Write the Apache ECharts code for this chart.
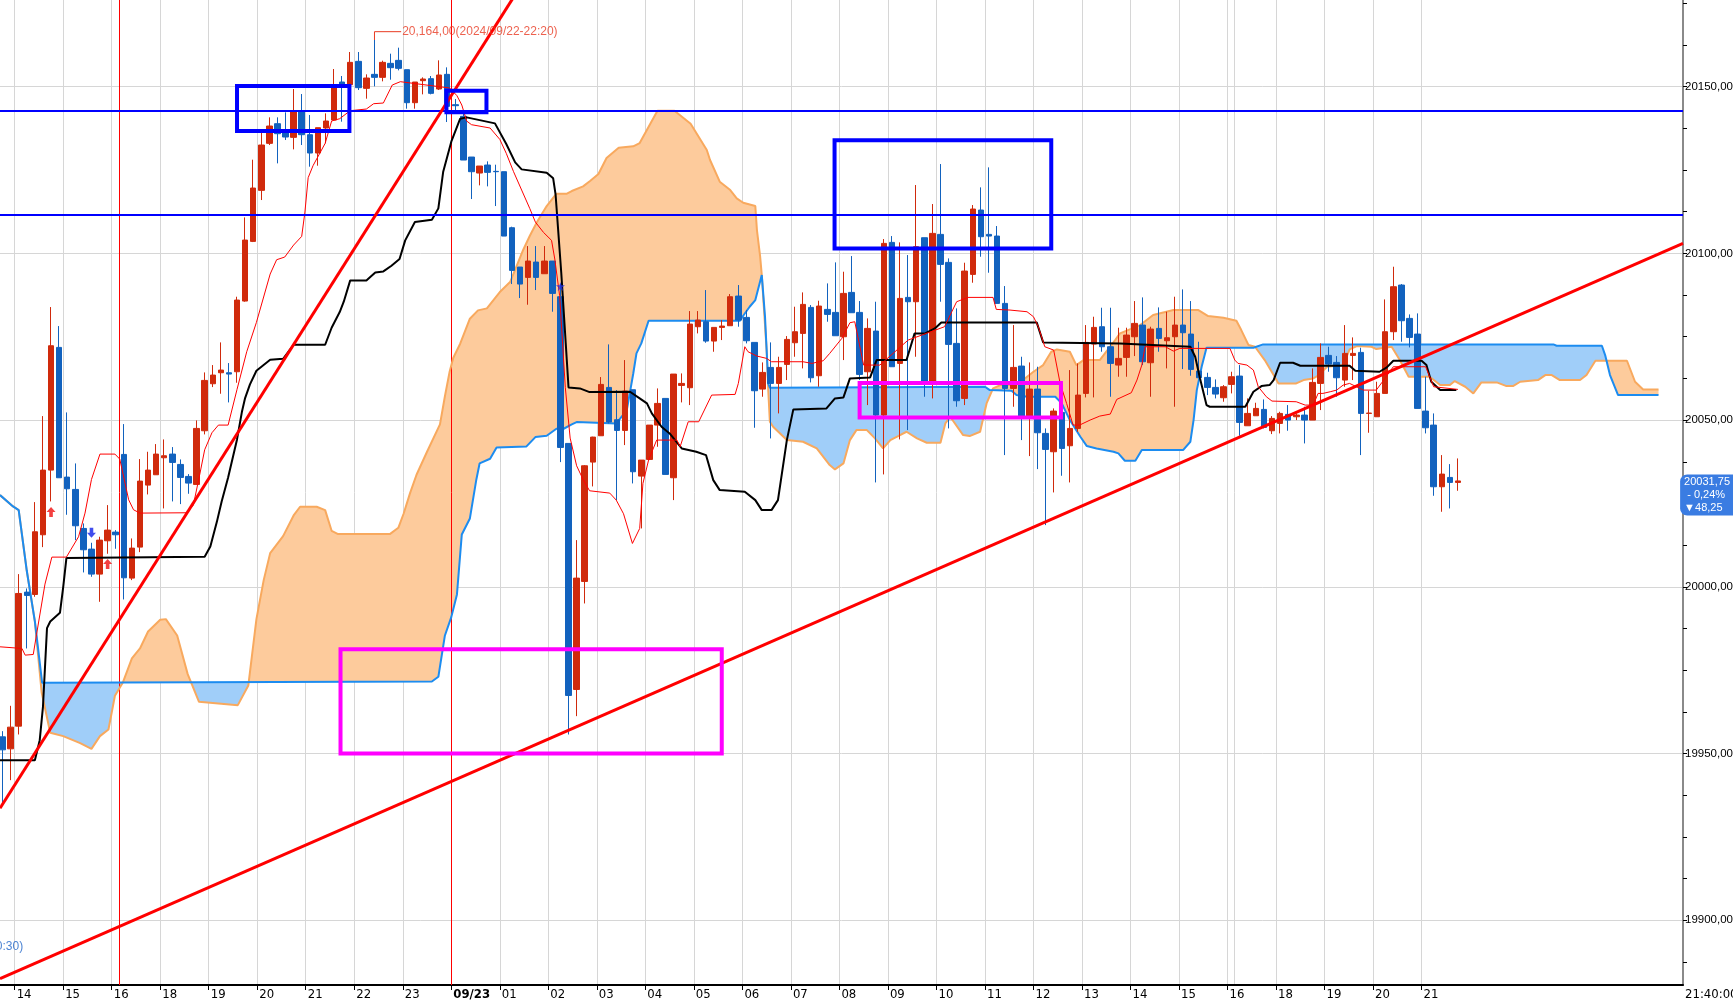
<!DOCTYPE html>
<html><head><meta charset="utf-8"><title>chart</title>
<script src="https://cdn.jsdelivr.net/npm/echarts@6/dist/echarts.min.js"></script>
<style>html,body{margin:0;padding:0;background:#fff;overflow:hidden}#chart{width:1733px;height:1002px}</style>
</head><body><div id="chart"></div>
<script>
// ---------- DATA (bar index k: 0 = 14:00 on 09/22, 10-minute bars) ----------
const firstBar = -2;
const hourLabels = ['14','15','16','18','19','20','21','22','23','09/23','01','02','03','04','05','06','07','08','09','10','11','12','13','14','15','16','18','19','20','21'];
const lastTimeLabel = '21:40:00';
const priceLabels = [19900, 19950, 20000, 20050, 20100, 20150];

const openPrices = [
19955.0,19951.4,19958.2,19998.4,19997.7,20015.6,20035.0,20071.8,20032.9,20029.2,
20017.5,20011.3,20003.8,20013.8,20016.4,20039.7,20002.6,20011.9,20030.5,20033.6,
20038.7,20039.8,20036.7,20033.1,20030.7,20046.8,20060.9,20064.2,20064.2,20064.5,
20085.7,20103.6,20118.9,20133.0,20138.9,20136.2,20134.8,20142.8,20135.6,20130.1,
20137.6,20140.0,20151.4,20150.6,20157.6,20149.5,20153.7,20152.8,20157.0,20157.9,
20155.1,20145.2,20151.8,20152.4,20149.3,20153.7,20144.6,20141.1,20128.9,20124.1,
20126.5,20124.6,20124.5,20107.7,20095.9,20092.8,20097.4,20093.9,20097.7,20087.0,
20043.0,19969.2,20001.6,20037.4,20045.3,20059.8,20050.1,20046.9,20059.1,20033.2,
20038.2,20048.5,20056.5,20032.7,20060.4,20059.7,20078.0,20079.5,20073.7,20077.8,
20078.3,20087.2,20080.8,20073.3,20059.3,20065.8,20061.0,20066.7,20073.2,20076.0,
20083.8,20063.3,20083.2,20082.3,20075.0,20088.3,20082.3,20064.5,20076.7,20051.5,
20103.3,20067.0,20086.8,20085.5,20104.7,20061.5,20105.7,20097.3,20073.0,20056.5,
20093.7,20113.0,20105.7,20105.2,20085.0,20059.5,20066.2,20051.2,20059.3,20046.0,
20040.5,20052.3,20042.3,20047.5,20058.0,20072.8,20078.0,20072.0,20066.5,20068.8,
20075.0,20078.5,20067.2,20077.5,20073.8,20075.0,20078.5,20075.8,20064.7,20062.8,
20059.8,20056.7,20060.7,20063.2,20048.3,20051.3,20053.2,20046.8,20049.0,20051.7,
20051.0,20051.5,20050.0,20061.0,20069.4,20067.3,20062.0,20069.4,20070.3,20052.0,
20051.0,20058.0,20076.5,20090.5,20080.5,20075.8,20052.7,20048.5,20030.0,20032.8,20031.3];
const closePrices = [
19951.1,19957.9,19998.0,19997.4,20016.5,20035.0,20072.3,20032.7,20029.4,20018.3,
20011.1,20003.8,20014.0,20017.0,20015.6,20002.7,20011.6,20031.7,20035.0,20039.8,
20039.3,20037.3,20032.8,20031.1,20047.5,20061.9,20063.5,20065.0,20063.8,20086.0,
20104.0,20119.6,20132.5,20138.2,20135.9,20134.9,20142.5,20135.6,20130.1,20137.7,
20139.7,20149.8,20150.6,20157.3,20149.7,20152.6,20152.8,20157.3,20155.7,20155.5,
20145.2,20151.4,20152.3,20148.0,20153.5,20144.1,20144.3,20128.0,20124.5,20126.2,
20124.3,20124.5,20105.2,20094.9,20090.8,20097.7,20092.8,20097.7,20088.0,20041.8,
19967.4,20002.6,20036.3,20044.9,20060.7,20049.4,20046.9,20058.7,20034.5,20038.0,
20048.5,20055.0,20033.7,20063.8,20061.0,20078.8,20080.0,20073.7,20077.8,20078.2,
20087.0,20080.0,20073.8,20058.8,20064.3,20061.0,20065.8,20074.2,20076.5,20084.7,
20062.7,20084.2,20081.7,20075.3,20088.0,20082.2,20063.7,20077.5,20051.5,20103.0,
20066.0,20086.5,20085.5,20102.0,20061.5,20106.0,20096.7,20072.7,20055.8,20094.7,
20113.3,20105.0,20105.2,20085.0,20059.5,20065.8,20051.2,20059.3,20046.2,20041.2,
20052.7,20041.5,20047.5,20057.5,20073.3,20077.8,20072.0,20067.0,20068.5,20075.5,
20079.0,20067.5,20077.3,20074.5,20074.7,20078.5,20076.2,20065.2,20062.7,20059.8,
20057.8,20060.0,20063.0,20049.3,20052.0,20053.5,20047.8,20050.5,20052.0,20050.0,
20051.5,20050.0,20061.3,20068.8,20066.8,20062.7,20070.0,20070.0,20052.0,20052.1,
20058.0,20076.5,20090.0,20079.8,20074.8,20053.5,20047.7,20030.0,20033.8,20031.3,20031.75];
const lowPrices = [
19935.0,19942.0,19955.7,19981.5,19997.0,20011.9,20025.6,20032.7,20021.6,20014.0,
20004.3,20003.0,19995.5,20009.9,20011.4,19996.2,20002.0,20010.4,20027.7,20033.6,
20023.5,20025.6,20024.8,20027.9,20030.7,20045.7,20059.9,20057.9,20055.3,20061.2,
20085.5,20103.4,20116.0,20132.5,20127.0,20134.0,20131.2,20132.5,20126.0,20126.3,
20133.0,20140.0,20139.5,20150.6,20149.0,20146.4,20150.1,20151.6,20152.1,20154.9,
20143.4,20143.4,20147.7,20147.7,20149.0,20139.4,20142.4,20128.0,20116.3,20120.4,
20120.1,20114.2,20105.2,20090.8,20086.6,20084.6,20089.0,20093.9,20082.5,20037.4,
19955.7,19961.2,19995.0,20030.1,20045.3,20049.0,20026.0,20042.5,20031.0,20017.5,
20038.0,20042.0,20033.7,20026.0,20055.3,20054.5,20076.0,20073.2,20070.5,20074.0,
20078.3,20078.0,20073.0,20047.7,20057.0,20044.5,20052.0,20062.0,20069.0,20065.5,
20061.3,20060.0,20079.5,20075.3,20068.0,20082.2,20062.0,20054.5,20031.3,20033.7,
20066.0,20044.2,20047.0,20069.0,20057.0,20056.5,20085.5,20047.5,20054.0,20054.5,
20091.2,20099.0,20094.2,20085.0,20039.5,20054.0,20044.0,20039.2,20035.3,20018.5,
20028.3,20033.3,20031.3,20046.5,20056.8,20056.8,20070.5,20057.0,20063.0,20063.0,
20069.2,20066.5,20057.0,20070.5,20065.5,20054.0,20065.3,20063.3,20062.7,20057.5,
20056.5,20055.5,20058.0,20045.3,20048.3,20051.3,20047.5,20045.8,20046.0,20046.8,
20050.0,20043.0,20050.0,20053.0,20064.5,20057.0,20060.0,20062.0,20039.5,20046.2,
20051.0,20058.0,20074.0,20073.5,20071.8,20053.5,20046.0,20027.3,20022.5,20023.5,20028.8];
const highPrices = [
19956.7,19964.3,20003.8,19999.5,20025.4,20051.2,20083.9,20078.2,20052.3,20037.0,
20019.0,20013.2,20015.0,20024.5,20017.0,20048.8,20014.5,20038.3,20040.5,20042.8,
20044.2,20041.9,20038.2,20033.8,20049.9,20064.3,20066.5,20073.3,20067.1,20087.0,
20110.8,20128.1,20136.1,20140.8,20140.8,20142.3,20149.3,20147.8,20141.5,20137.7,
20142.0,20155.3,20153.2,20160.4,20160.4,20153.7,20164.0,20157.8,20159.9,20161.7,
20155.1,20151.4,20152.8,20153.2,20157.9,20155.8,20146.3,20142.4,20128.9,20126.2,
20127.6,20126.6,20124.5,20108.0,20095.9,20102.2,20102.2,20102.2,20097.7,20090.8,
20043.0,20014.0,20036.5,20045.0,20062.9,20072.7,20059.0,20068.0,20059.1,20038.0,
20048.5,20059.5,20056.5,20063.8,20064.0,20082.7,20082.7,20089.0,20077.8,20080.0,
20087.8,20090.5,20083.0,20073.3,20067.3,20073.3,20069.0,20075.2,20084.0,20088.3,
20084.5,20085.8,20091.0,20097.3,20094.5,20099.2,20085.7,20080.5,20085.5,20104.3,
20105.2,20103.3,20099.5,20120.5,20104.7,20114.8,20126.8,20098.5,20083.5,20097.2,
20114.5,20119.8,20125.8,20108.2,20090.2,20078.5,20069.0,20067.3,20066.0,20047.5,
20053.5,20055.0,20065.0,20067.0,20078.5,20081.0,20083.7,20083.7,20077.7,20077.7,
20085.7,20086.8,20078.0,20083.8,20082.5,20087.0,20089.2,20085.7,20073.5,20064.2,
20062.2,20060.5,20064.5,20066.5,20056.5,20055.2,20056.2,20051.2,20052.5,20054.5,
20052.0,20054.0,20065.5,20073.0,20072.0,20069.2,20078.5,20074.8,20071.7,20058.8,
20061.5,20086.2,20096.0,20090.8,20081.7,20082.0,20063.0,20052.0,20039.5,20036.8,20038.5];

// Ichimoku lines as [bar index, price] breakpoints
const tenkanLine = [[-2.31,19982.0],[0.4,19981.5],[0.8,19979.5],[1.8,19979.7],[2.2,19985.6],[3.25,20000.8],[4.1,20008.9],[5.9,20008.9],[7.4,20015.0],[8.2,20022.1],[9.0,20032.2],[10.05,20039.8],[11.9,20039.8],[12.5,20038.3],[13.6,20026.1],[14.2,20023.1],[15.0,20022.1],[20.8,20022.2],[21.6,20024.5],[22.4,20033.8],[23.0,20041.1],[23.9,20046.2],[24.7,20048.5],[25.9,20048.5],[27.0,20059.2],[28.2,20070.5],[29.4,20079.3],[31.1,20093.8],[31.9,20098.1],[32.9,20098.9],[34.0,20102.5],[35.0,20105.1],[35.4,20112.4],[35.8,20122.7],[36.4,20126.3],[37.9,20133.0],[38.7,20139.7],[39.7,20140.4],[41.0,20142.8],[43.0,20143.3],[43.9,20144.9],[45.1,20145.1],[46.2,20150.5],[47.2,20151.5],[53.3,20149.6],[54.2,20147.3],[54.8,20144.5],[55.4,20139.7],[56.0,20138.6],[58.3,20137.6],[59.5,20134.2],[60.3,20130.0],[61.2,20124.5],[62.2,20119.0],[63.2,20113.5],[63.9,20109.4],[64.9,20106.3],[65.9,20103.9],[66.3,20098.3],[66.9,20087.3],[67.6,20059.8],[68.2,20044.6],[69.0,20036.3],[69.8,20032.2],[70.6,20028.8],[73.1,20028.1],[73.9,20026.0],[74.8,20021.9],[75.9,20013.0],[76.8,20017.5],[77.2,20031.0],[77.9,20038.0],[78.9,20044.0],[81.4,20044.0],[81.8,20042.0],[82.8,20049.5],[84.1,20049.5],[85.7,20057.5],[88.6,20057.7],[89.0,20061.0],[89.8,20072.0],[90.2,20070.5],[91.3,20069.2],[92.5,20068.5],[93.1,20067.5],[97.0,20067.5],[98.1,20067.0],[99.5,20067.8],[100.3,20070.0],[101.8,20074.5],[102.8,20079.2],[103.4,20079.5],[104.5,20066.5],[106.5,20066.5],[110.0,20074.0],[114.5,20078.0],[115.4,20082.5],[116.0,20085.5],[117.4,20086.8],[120.5,20086.8],[120.9,20083.2],[122.6,20083.0],[124.7,20082.5],[125.5,20081.0],[126.1,20078.0],[126.9,20072.0],[128.0,20071.0],[128.8,20061.0],[129.6,20055.0],[130.4,20048.5],[131.2,20048.5],[132.5,20050.0],[133.7,20051.2],[135.0,20051.8],[135.8,20056.2],[137.6,20058.2],[138.3,20062.0],[138.9,20066.5],[139.3,20072.0],[141.8,20072.0],[142.8,20070.7],[143.6,20071.5],[149.8,20071.5],[150.4,20068.0],[150.8,20067.0],[151.9,20066.5],[152.7,20065.0],[153.3,20060.0],[154.3,20057.0],[155.0,20055.7],[158.0,20055.5],[159.1,20054.5],[160.1,20054.5],[160.7,20058.0],[161.3,20058.0],[162.2,20058.5],[163.0,20059.0],[163.8,20060.5],[164.6,20061.0],[166.3,20059.0],[167.9,20059.0],[168.6,20061.3],[170.0,20066.0],[174.0,20066.0],[175.0,20060.0],[178.0,20059.2]];
const kijunLine = [[-2.31,19948.0],[2.0,19948.0],[2.6,19954.0],[3.0,19964.0],[3.5,19987.6],[3.9,19989.6],[5.1,19992.2],[5.5,19999.8],[5.9,20008.6],[23.0,20009.0],[23.7,20012.1],[24.5,20019.4],[25.1,20025.6],[25.9,20032.8],[27.0,20044.2],[27.6,20052.4],[28.0,20056.6],[28.6,20060.7],[29.4,20064.8],[31.1,20068.1],[32.7,20068.4],[34.0,20072.6],[37.9,20072.6],[38.7,20077.7],[39.7,20082.4],[40.2,20085.5],[41.0,20091.9],[43.0,20091.9],[44.1,20094.3],[45.1,20094.6],[46.1,20096.3],[47.1,20098.3],[47.8,20103.9],[49.0,20109.4],[51.1,20110.1],[51.9,20113.5],[52.5,20124.5],[53.5,20133.5],[54.6,20140.4],[55.4,20140.8],[58.9,20139.0],[60.3,20132.8],[61.4,20127.3],[62.2,20125.2],[65.3,20124.2],[66.1,20122.5],[66.4,20117.6],[67.1,20094.2],[68.0,20059.8],[69.4,20059.5],[70.6,20058.4],[75.6,20058.5],[76.8,20056.5],[77.7,20055.0],[78.3,20052.0],[79.5,20048.0],[80.5,20046.0],[82.0,20041.5],[83.8,20040.5],[85.0,20039.5],[85.9,20032.0],[86.7,20029.0],[89.8,20028.5],[91.1,20026.0],[91.9,20023.0],[93.1,20023.0],[93.9,20026.0],[95.0,20044.0],[95.8,20053.2],[99.9,20053.5],[100.95,20056.5],[102.0,20056.8],[102.8,20062.5],[105.3,20062.8],[106.1,20068.0],[109.8,20068.0],[110.8,20076.0],[112.1,20076.0],[113.3,20077.5],[114.1,20079.3],[125.9,20079.3],[126.7,20073.3],[136.2,20073.0],[144.9,20072.0],[145.5,20069.0],[146.1,20062.5],[146.9,20054.5],[147.3,20054.0],[151.7,20054.0],[152.7,20058.5],[153.7,20060.2],[154.7,20060.5],[155.2,20062.0],[156.0,20067.2],[157.6,20067.2],[158.5,20066.3],[164.6,20066.3],[165.3,20064.8],[168.3,20064.5],[169.2,20065.8],[170.0,20067.8],[173.5,20067.8],[174.1,20066.5],[174.7,20061.5],[175.8,20059.0],[177.8,20059.0]];
const spanA = [[-2.31,20027.5],[-0.7,20024.1],[0,20023.0],[1,20004.8],[2,19989.6],[2.9,19971.2],[51.1,19971.6],[51.9,19973.0],[52.7,19985.3],[53.5,19990.9],[54.2,19997.7],[54.8,20015.7],[55.8,20020.5],[56.6,20032.2],[57.0,20037.0],[58.3,20038.4],[59.1,20041.8],[62.8,20042.1],[63.9,20044.9],[65.3,20045.3],[66.5,20047.4],[67.4,20047.4],[68.4,20048.7],[69.0,20049.4],[73.9,20049.0],[75.2,20052.9],[76.0,20063.9],[76.4,20070.0],[77.0,20073.0],[77.9,20079.8],[89.2,20079.8],[89.6,20081.3],[90.4,20084.0],[91.1,20086.0],[91.9,20093.5],[92.3,20081.0],[92.5,20071.0],[92.7,20061.0],[92.9,20059.7],[119.5,20060.0],[120.1,20059.0],[122.8,20058.8],[123.4,20057.5],[124.7,20057.0],[128.2,20057.0],[129.0,20055.0],[130.0,20050.0],[131.3,20045.0],[132.1,20042.2],[133.3,20041.5],[135.4,20040.5],[136.0,20040.0],[136.8,20037.8],[138.1,20037.8],[138.9,20041.0],[144.0,20041.0],[144.9,20043.5],[145.3,20050.0],[145.7,20059.0],[146.3,20066.0],[146.9,20071.7],[152.7,20071.7],[153.9,20072.7],[189.8,20072.7],[190.2,20072.3],[195.8,20072.3],[196.2,20069.5],[196.8,20063.5],[197.8,20057.5],[202.8,20057.5]];
const spanB = [[-2.31,20027.5],[-0.7,20024.1],[0,20023.0],[1,20004.8],[2,19989.6],[2.84,19968.3],[3.9,19956.2],[5.5,19955.2],[7.6,19953.1],[9.0,19951.4],[10.05,19955.2],[11.1,19957.2],[11.9,19967.3],[12.9,19971.4],[14.0,19978.5],[15.0,19981.5],[16.0,19986.6],[17.5,19990.1],[18.2,19990.3],[19.6,19985.4],[20.9,19973.8],[22.3,19965.5],[27.1,19964.5],[28.4,19970.4],[29.4,19990.3],[30.3,20002.0],[31.1,20010.1],[32.7,20015.2],[34.0,20021.4],[34.8,20024.0],[36.85,20024.0],[37.9,20023.0],[38.7,20016.8],[39.5,20015.8],[45.9,20015.8],[46.95,20017.7],[47.6,20021.9],[48.4,20028.1],[49.2,20033.6],[50.5,20040.5],[52.1,20048.7],[52.7,20057.0],[53.3,20064.6],[53.75,20068.7],[54.6,20072.9],[55.8,20080.4],[56.8,20082.9],[57.9,20083.5],[59.5,20088.4],[60.8,20091.5],[62.4,20101.1],[63.2,20105.2],[64.1,20109.4],[65.3,20114.2],[66.5,20117.9],[67.8,20117.9],[68.4,20118.7],[69.8,20120.1],[70.7,20121.8],[71.7,20123.8],[72.7,20128.6],[74.2,20131.7],[76.0,20132.1],[76.8,20133.1],[79.0,20142.8],[81.1,20142.8],[83.1,20138.9],[85.1,20131.0],[85.5,20128.0],[86.7,20121.5],[88.0,20119.0],[88.8,20116.5],[89.6,20115.2],[91.1,20114.2],[91.3,20107.0],[91.7,20099.0],[91.9,20093.5],[92.1,20086.0],[92.5,20071.0],[92.7,20059.0],[92.9,20049.5],[93.3,20048.0],[95.0,20044.0],[97.0,20043.5],[98.7,20041.5],[100.3,20036.5],[100.95,20035.2],[102.0,20037.0],[102.8,20044.0],[103.6,20047.0],[104.9,20047.0],[105.9,20044.5],[106.9,20041.5],[107.8,20044.0],[109.0,20045.5],[109.8,20046.5],[111.1,20044.5],[112.3,20043.2],[114.0,20043.2],[114.6,20049.0],[115.2,20051.0],[116.8,20045.5],[117.6,20045.2],[118.9,20046.5],[119.7,20055.0],[120.5,20059.5],[121.4,20060.5],[123.0,20060.5],[124.2,20062.0],[125.5,20064.5],[126.7,20066.5],[127.7,20070.5],[128.4,20071.2],[130.0,20070.5],[130.8,20066.5],[131.7,20068.0],[133.7,20068.0],[135.6,20074.0],[136.2,20076.0],[138.7,20078.5],[140.3,20081.5],[142.8,20083.0],[145.9,20083.0],[147.1,20081.2],[149.0,20080.7],[150.6,20079.8],[151.2,20077.0],[152.1,20072.5],[152.9,20072.0],[154.1,20068.0],[155.2,20063.5],[155.8,20061.0],[158.0,20061.0],[158.9,20062.0],[160.1,20062.5],[160.7,20063.3],[161.8,20066.0],[163.8,20066.5],[164.6,20071.2],[165.5,20072.2],[167.3,20072.0],[167.9,20071.3],[169.8,20072.0],[170.8,20068.0],[171.9,20063.0],[174.5,20063.0],[175.8,20060.5],[177.0,20060.5],[177.6,20061.7],[178.9,20060.0],[179.9,20058.0],[180.9,20061.3],[182.8,20061.3],[184.0,20060.2],[184.8,20060.2],[185.7,20061.5],[187.9,20062.0],[188.8,20063.5],[189.6,20063.5],[190.6,20062.0],[193.1,20062.0],[193.9,20063.5],[195.0,20067.8],[198.9,20067.8],[199.9,20061.5],[200.9,20059.2],[202.8,20059.2]];

// Drawn annotations (data coordinates: bar index, price)
const trendLineSteep = [[-2.31,19933.6],[62.0,20179.9]];
const trendLineLong = [[-2.31,19882.5],[205.83,20103.0]];
const blueLevels = [20142.8, 20111.6];
const redTimeLines = [12.4, 53.5];
const blueBoxes = [[27.0,20150.2,40.9,20136.7],[52.9,20148.8,57.85,20142.3],[100.9,20133.9,127.7,20101.5]];
const magentaBoxes = [[39.8,19981.3,86.95,19950.0],[104.0,20061.1,128.9,20050.8]];
const signalUp = [[4,20022.4],[11,20006.8]];
const signalDown = [[9,20016.2]];
const signalStar = [[67,20090.1]];
const highNote = {k:44, price:20164.0, labelPrice:20166.5, labelK:47.3, text:'20,164,00(2024/09/22-22:20)'};
const lowNote = {k:0.55, price:19892.2, text:'19,930,00(2024/09/20-20:30)'};
const lastPrice = 20031.75;
const tagLines = ['20031,75',' - 0,24%','\u25BC48,25'];

// ---------- AXIS EXTENTS ----------
const kMin = -2.3126, kMax = 205.83;
const yMin = 19880.56, yMax = 20176.0;
const tickKs = hourLabels.map((_, i) => i * 6 - 0.5);
const extraGridKs = [150.35];
const minorTicks = [];
for (let v = 19887.5; v <= yMax; v += 12.5) minorTicks.push(v);

const FONT = "'Liberation Sans Narrow','Arial Narrow','DejaVu Sans Condensed',sans-serif";
const FONT_Y = "'Liberation Sans',Arial,sans-serif";
const RED = '#D02A0C', BLUE = '#1262BE';

// ---------- CLOUD (fill between span A and span B) ----------
function lerpAt(pts, x) {
  for (let i = 0; i < pts.length - 1; i++) {
    const a = pts[i], b = pts[i + 1];
    if (x >= a[0] && x <= b[0]) return b[0] === a[0] ? b[1] : a[1] + (b[1] - a[1]) * (x - a[0]) / (b[0] - a[0]);
  }
  return null;
}
function cloudPolygons(A, B) {
  const lo = Math.max(A[0][0], B[0][0]), hi = Math.min(A[A.length - 1][0], B[B.length - 1][0]);
  const xs = [...new Set(A.concat(B).map(p => p[0]))].filter(x => x >= lo && x <= hi).sort((p, q) => p - q);
  const polys = [];
  let cur = null, prev = null;
  xs.forEach(x => {
    const a = lerpAt(A, x), b = lerpAt(B, x);
    let d = a - b;
    if (d === 0) d = prev ? Math.sign(prev.d) * 1e-9 : 1e-9;
    if (prev && prev.d * d < 0) {
      const t = prev.d / (prev.d - d);
      const cx = prev.x + t * (x - prev.x), cy = prev.a + t * (a - prev.a);
      cur.top.push([cx, cy]); cur.bot.push([cx, cy]); polys.push(cur);
      cur = {up: d > 0, top: [[cx, cy]], bot: [[cx, cy]]};
    }
    if (!cur) cur = {up: d > 0, top: [], bot: []};
    cur.top.push([x, a]); cur.bot.push([x, b]);
    prev = {x, a, b, d};
  });
  if (cur) polys.push(cur);
  return polys;
}
const cloud = cloudPolygons(spanA, spanB);

const candleData = openPrices.map((o, i) => [firstBar + i, o, closePrices[i], lowPrices[i], highPrices[i]]);

function boxArea(b) { return [{coord: [b[0], b[1]]}, {coord: [b[2], b[3]]}]; }
const arrowPath = 'path://M5,0 L10,5 L7,5 L7,10 L3,10 L3,5 L0,5 Z';
const starPath = 'path://M50,0 L61,35 L98,35 L68,57 L79,91 L50,70 L21,91 L32,57 L2,35 L39,35 Z';

const chart = echarts.init(document.getElementById('chart'), null, {renderer: 'canvas'});
const option = {
  animation: false,
  backgroundColor: '#ffffff',
  grid: {left: 0, right: 50, top: 0, bottom: 17, show: false, containLabel: false, outerBoundsMode: 'none'},
  xAxis: {
    type: 'value', min: kMin, max: kMax,
    axisLine: {show: true, onZero: false, lineStyle: {color: '#000', width: 2}},
    axisTick: {show: true, customValues: tickKs, length: 5, inside: false, lineStyle: {color: '#000', width: 1}},
    axisLabel: {
      show: true, customValues: tickKs.concat([kMax]), showMinLabel: true, showMaxLabel: true,
      align: 'left', margin: 3, padding: [0, 0, 0, 2], fontSize: 13, fontFamily: FONT, color: '#000',
      formatter: v => {
        if (Math.abs(v - kMax) < 0.01) return lastTimeLabel;
        const s = hourLabels[Math.round((v + 0.5) / 6)];
        return s === '09/23' ? '{b|' + s + '}' : s;
      },
      rich: {b: {fontWeight: 'bold', fontSize: 13, fontFamily: FONT, color: '#000'}}
    },
    splitLine: {show: false}
  },
  yAxis: {
    type: 'value', position: 'right', min: yMin, max: yMax,
    axisLine: {show: true, onZero: false, lineStyle: {color: '#8a8a8a', width: 2}},
    axisTick: {show: true, customValues: minorTicks, length: 4, lineStyle: {color: '#000', width: 1}},
    axisLabel: {show: true, customValues: priceLabels, showMinLabel: true, showMaxLabel: true, margin: 2,
      fontSize: 11.5, fontFamily: FONT_Y, color: '#000', formatter: v => v.toFixed(2).replace('.', ',')},
    splitLine: {show: false},
    axisPointer: {
      show: true, type: 'line', value: lastPrice, status: 'show', snap: false, triggerTooltip: false,
      lineStyle: {opacity: 0, width: 0},
      label: {show: true, formatter: () => tagLines.join('\n'), backgroundColor: '#3A7CE2', color: '#fff',
        fontFamily: FONT_Y, fontSize: 11, lineHeight: 13, padding: [1, 3, 1, 4], borderRadius: [7, 0, 0, 7], margin: 2}
    }
  },
  series: [
    {name: 'grid', type: 'line', data: [], silent: true,
      markLine: {silent: true, z: 0, symbol: ['none', 'none'], label: {show: false},
        lineStyle: {color: '#D6D6D6', width: 1, type: 'solid'},
        data: tickKs.concat(extraGridKs).map(v => ({xAxis: v})).concat(priceLabels.map(v => ({yAxis: v})))}},
    {name: 'cloud', type: 'custom', silent: true, z: 1,
      data: cloud.map((p, i) => [p.top[0][0], p.top[0][1], i]), encode: {x: 0, y: 1},
      renderItem: (params, api) => {
        const p = cloud[params.dataIndex];
        const pts = p.top.concat(p.bot.slice().reverse()).map(q => api.coord(q));
        return {type: 'polygon', shape: {points: pts}, style: {fill: p.up ? '#A0CEF9' : '#FDCB9C', stroke: null}};
      }},
    {name: 'spanB', type: 'line', data: spanB, showSymbol: false, silent: true, z: 2,
      lineStyle: {color: '#F8A95E', width: 2}},
    {name: 'spanA', type: 'line', data: spanA, showSymbol: false, silent: true, z: 2,
      lineStyle: {color: '#1C8CF0', width: 2}},
    {name: 'timeLines', type: 'line', data: [], silent: true,
      markLine: {silent: true, z: 2, symbol: ['none', 'none'], label: {show: false},
        lineStyle: {color: '#FF0000', width: 1, type: 'solid'}, data: redTimeLines.map(v => ({xAxis: v}))}},
    {name: 'price', type: 'candlestick', data: candleData, z: 3, barWidth: 6,
      itemStyle: {color: RED, color0: BLUE, borderColor: RED, borderColor0: BLUE, borderWidth: 1}},
    {name: 'kijun', type: 'line', data: kijunLine, showSymbol: false, silent: true, z: 4,
      lineStyle: {color: '#000', width: 2}},
    {name: 'tenkan', type: 'line', data: tenkanLine, showSymbol: false, silent: true, z: 4,
      lineStyle: {color: '#FF0000', width: 1}},
    {name: 'trend1', type: 'line', data: trendLineSteep, showSymbol: false, silent: true, z: 5,
      lineStyle: {color: '#FF0000', width: 3}},
    {name: 'trend2', type: 'line', data: trendLineLong, showSymbol: false, silent: true, z: 5,
      lineStyle: {color: '#FF0000', width: 3}},
    {name: 'levels', type: 'line', data: [], silent: true,
      markLine: {silent: true, z: 5, symbol: ['none', 'none'], label: {show: false},
        lineStyle: {color: '#0000FF', width: 2, type: 'solid'}, data: blueLevels.map(v => ({yAxis: v}))}},
    {name: 'boxes', type: 'line', data: [], silent: true,
      markArea: {silent: true, z: 6, label: {show: false},
        data: blueBoxes.map(b => { const a = boxArea(b); a[0].itemStyle = {color: 'rgba(0,0,0,0)', borderColor: '#0000FF', borderWidth: 4}; return a; })
          .concat(magentaBoxes.map(b => { const a = boxArea(b); a[0].itemStyle = {color: 'rgba(0,0,0,0)', borderColor: '#FF00FF', borderWidth: 4}; return a; }))}},
    {name: 'up', type: 'scatter', data: signalUp, symbol: arrowPath, symbolSize: [9, 10], z: 7, silent: true,
      itemStyle: {color: '#F01010'}},
    {name: 'down', type: 'scatter', data: signalDown, symbol: arrowPath, symbolSize: [9, 10], symbolRotate: 180, z: 7, silent: true,
      itemStyle: {color: '#1020E8'}},
    {name: 'star', type: 'scatter', data: signalStar, symbol: starPath, symbolSize: 9, z: 7, silent: true,
      itemStyle: {color: '#2030E0'}},
    {name: 'highNoteLine', type: 'line', silent: true, showSymbol: false, z: 7,
      data: [[highNote.k, highNote.price], [highNote.k, highNote.labelPrice], [highNote.labelK, highNote.labelPrice]],
      lineStyle: {color: '#E83A22', width: 1}},
    {name: 'highNoteText', type: 'scatter', silent: true, z: 7, symbolSize: 0,
      data: [[highNote.labelK, highNote.labelPrice]],
      label: {show: true, position: 'right', distance: 1, formatter: () => highNote.text,
        color: '#E83A22', fontSize: 12, fontFamily: FONT_Y}},
    {name: 'lowNoteText', type: 'scatter', silent: true, z: 7, symbolSize: 0, clip: false,
      data: [[lowNote.k, lowNote.price]],
      label: {show: true, position: 'left', distance: 0, formatter: () => lowNote.text,
        color: '#1E64C8', fontSize: 12, fontFamily: FONT_Y}}
  ]
};
chart.setOption(option);
</script></body></html>
